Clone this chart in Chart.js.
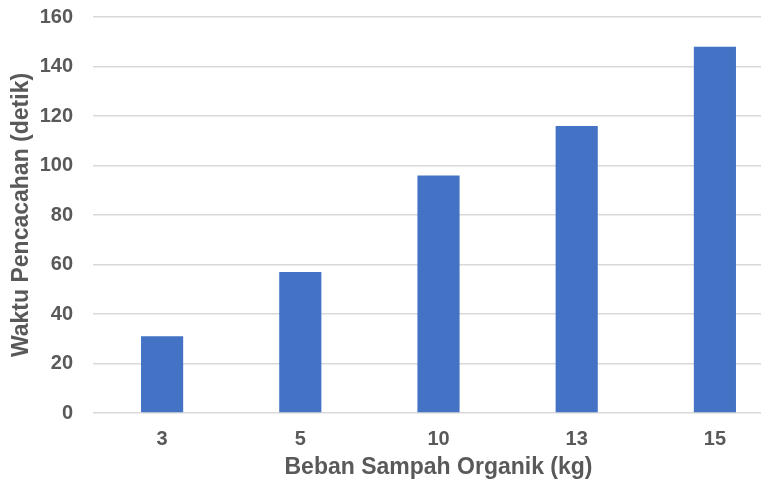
<!DOCTYPE html>
<html>
<head>
<meta charset="utf-8">
<script src="https://cdn.jsdelivr.net/npm/chart.js@4/dist/chart.umd.min.js"></script>
<style>
  html, body { margin: 0; padding: 0; background: #fff; overflow: hidden; }
  #wrap { width: 784px; height: 481px; }
</style>
</head>
<body>
<div id="wrap"><canvas id="c" width="784" height="481"></canvas></div>
<script>
// Organic waste load (kg) vs. shredding time (seconds)
const categories = ['3', '5', '10', '13', '15'];
const waktuPencacahan = [31, 57, 96, 116, 148];
const yTicks = [0, 20, 40, 60, 80, 100, 120, 140, 160];

const textColor = '#595959';
const fontFamily = '"Liberation Sans", Arial, sans-serif';

new Chart(document.getElementById('c'), {
  type: 'bar',
  data: {
    labels: categories,
    datasets: [{
      data: waktuPencacahan,
      backgroundColor: '#4472C4',
      borderWidth: 0,
      categoryPercentage: 1,
      barPercentage: 0.305
    }]
  },
  options: {
    responsive: false,
    animation: false,
    layout: { padding: { top: 17, left: 8, right: 0, bottom: 0 } },
    plugins: { legend: { display: false }, tooltip: { enabled: false } },
    scales: {
      x: {
        grid: { display: false },
        border: { display: false },
        ticks: { color: textColor, font: { family: fontFamily, size: 20, weight: 'bold' }, padding: 6 },
        title: {
          display: true,
          text: 'Beban Sampah Organik (kg)',
          color: textColor,
          font: { family: fontFamily, size: 23, weight: 'bold' },
          padding: { top: 2, bottom: 0 }
        },
        afterFit: (axis) => { axis.height = 68; }
      },
      y: {
        min: 0,
        max: 160,
        afterBuildTicks: (axis) => { axis.ticks = yTicks.map(v => ({ value: v })); },
        grid: { color: '#d9d9d9', lineWidth: 1.5, drawTicks: false },
        border: { display: false },
        ticks: { color: textColor, font: { family: fontFamily, size: 20, weight: 'bold' }, padding: 20 },
        title: {
          display: true,
          text: 'Waktu Pencacahan (detik)',
          color: textColor,
          font: { family: fontFamily, size: 23, weight: 'bold' },
          padding: { top: 0, bottom: 5 }
        },
        afterFit: (axis) => {
          axis.width = 85;
          axis.paddingTop = 0;
          axis.paddingBottom = 0;
        }
      }
    }
  }
});
</script>
</body>
</html>
